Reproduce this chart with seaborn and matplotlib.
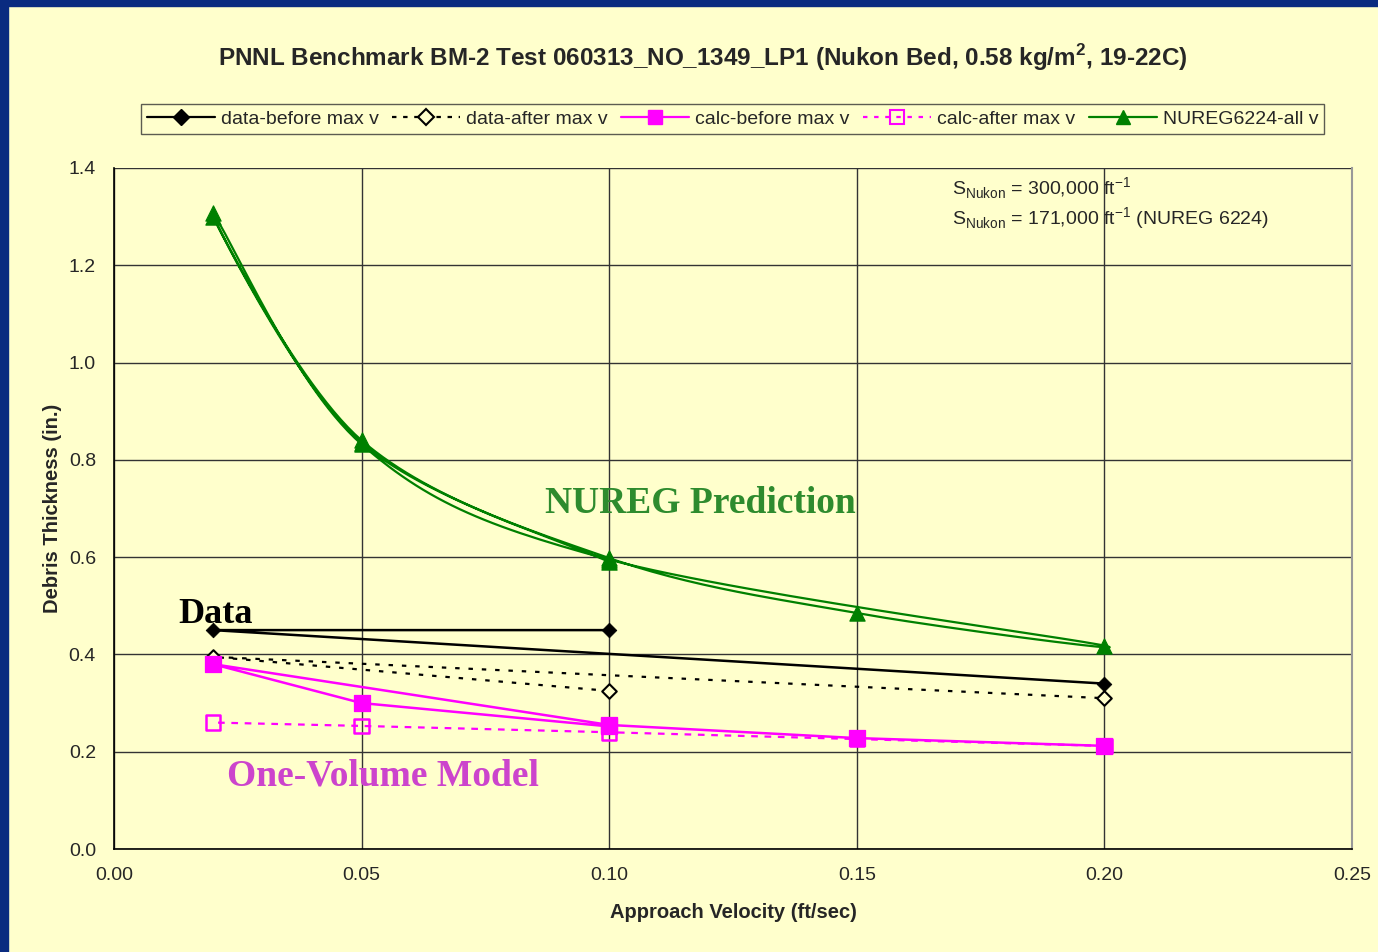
import numpy as np
import matplotlib
matplotlib.use("Agg")
import matplotlib.pyplot as plt
from matplotlib.lines import Line2D
from matplotlib.patches import Rectangle
import seaborn as sns

# ---------------- data ----------------
data_before_x = [0.10, 0.02, 0.20]
data_before_y = [0.45, 0.45, 0.34]

data_after_x = [0.10, 0.02, 0.20]
data_after_y = [0.325, 0.395, 0.31]

calc_before_x = [0.10, 0.05, 0.02, 0.10, 0.15, 0.20]
calc_before_y = [0.252, 0.30, 0.38, 0.255, 0.228, 0.212]

calc_after_x = [0.20, 0.15, 0.10, 0.05, 0.02]
calc_after_y = [0.212, 0.226, 0.240, 0.253, 0.260]

nureg_x = [0.10, 0.05, 0.02, 0.05, 0.10, 0.15, 0.20, 0.10, 0.05, 0.02]
nureg_y = [0.590, 0.835, 1.300, 0.840, 0.598, 0.485, 0.418, 0.595, 0.832, 1.308]

x_ticks = [0.00, 0.05, 0.10, 0.15, 0.20, 0.25]
y_ticks = [0.0, 0.2, 0.4, 0.6, 0.8, 1.0, 1.2, 1.4]

title = "PNNL Benchmark BM-2 Test 060313_NO_1349_LP1 (Nukon Bed, 0.58 kg/m$^{\\mathbf{2}}$, 19-22C)"
labels = ["data-before max v", "data-after max v", "calc-before max v",
          "calc-after max v", "NUREG6224-all v"]

BG = "#FFFFCC"
GREEN = "#008000"
MAG = "#FF00FF"


def smooth(xs, ys, n=30):
    """Excel-like smoothed line (Catmull-Rom / Bezier) through the points."""
    P = np.column_stack([xs, ys]).astype(float)
    out = []
    for i in range(len(P) - 1):
        p0 = P[i - 1] if i > 0 else P[i]
        p1 = P[i]
        p2 = P[i + 1]
        p3 = P[i + 2] if i + 2 < len(P) else P[i + 1]
        c1 = p1 + (p2 - p0) / 6.0
        c2 = p2 - (p3 - p1) / 6.0
        t = np.linspace(0, 1, n)[:, None]
        seg = ((1 - t) ** 3) * p1 + 3 * ((1 - t) ** 2) * t * c1 + 3 * (1 - t) * t ** 2 * c2 + t ** 3 * p2
        out.append(seg if i == 0 else seg[1:])
    S = np.vstack(out)
    return S[:, 0], S[:, 1]


sns.set_style("white")
plt.rcParams["font.family"] = ["Liberation Sans", "DejaVu Sans"]
plt.rcParams["mathtext.fontset"] = "custom"
plt.rcParams["mathtext.rm"] = "Liberation Sans"
plt.rcParams["mathtext.bf"] = "Liberation Sans:bold"

fig = plt.figure(figsize=(13.78, 9.52), dpi=100)
fig.patch.set_facecolor(BG)
# dark blue frame on left and top
fig.patches.append(Rectangle((0, 0), 8 / 1378, 1, transform=fig.transFigure, color="#0A2B80", zorder=0))
fig.patches.append(Rectangle((0, 1 - 6 / 952), 1, 6 / 952, transform=fig.transFigure, color="#0A2B80", zorder=0))

ax = fig.add_axes([114 / 1378, 1 - 849 / 952, (1352 - 114) / 1378, (849 - 168) / 952])
ax.set_facecolor(BG)

# NUREG (smoothed)
sx, sy = smooth(nureg_x, nureg_y)
sns.lineplot(x=sx, y=sy, sort=False, estimator=None, color=GREEN, lw=1.6, ax=ax, zorder=3)
sns.scatterplot(x=nureg_x, y=nureg_y, marker="^", s=120, color=GREEN, edgecolor=GREEN, ax=ax, zorder=4)

# data before
sns.lineplot(x=data_before_x, y=data_before_y, sort=False, estimator=None, color="black", lw=1.8, ax=ax, zorder=3)
sns.scatterplot(x=data_before_x, y=data_before_y, marker="D", s=55, color="black", edgecolor="black", ax=ax, zorder=4)

# data after
sns.lineplot(x=data_after_x, y=data_after_y, sort=False, estimator=None, color="black", lw=1.6,
             linestyle=(0, (2, 4)), ax=ax, zorder=3)
sns.scatterplot(x=data_after_x, y=data_after_y, marker="D", s=55, facecolor=BG, edgecolor="black",
                linewidth=1.5, ax=ax, zorder=4)

# calc after
sns.lineplot(x=calc_after_x, y=calc_after_y, sort=False, estimator=None, color=MAG, lw=1.6,
             linestyle=(0, (3, 3)), ax=ax, zorder=3)
sns.scatterplot(x=calc_after_x, y=calc_after_y, marker="s", s=110, facecolor="none", edgecolor=MAG,
                linewidth=1.8, ax=ax, zorder=4)

# calc before
sns.lineplot(x=calc_before_x, y=calc_before_y, sort=False, estimator=None, color=MAG, lw=1.8, ax=ax, zorder=3)
sns.scatterplot(x=calc_before_x, y=calc_before_y, marker="s", s=130, color=MAG, edgecolor=MAG, ax=ax, zorder=5)

ax.set_xlim(0, 0.25)
ax.set_ylim(0, 1.4)
ax.set_xticks(x_ticks)
ax.set_yticks(y_ticks)
ax.set_xticklabels([f"{v:.2f}" for v in x_ticks])
ax.set_yticklabels([f"{v:.1f}" for v in y_ticks])
ax.tick_params(axis="both", labelsize=14, direction="out", length=5, width=1, color="black", pad=8)
ax.grid(True, color="#333333", lw=1.0)
ax.set_axisbelow(True)
for s in ["left", "bottom"]:
    ax.spines[s].set_color("black")
    ax.spines[s].set_linewidth(1.2)
ax.spines["top"].set_visible(False)
ax.spines["right"].set_color("#999999")
ax.spines["right"].set_linewidth(1.5)

ax.set_xlabel("Approach Velocity (ft/sec)", fontsize=14.5, fontweight="bold", labelpad=14)
ax.set_ylabel("Debris Thickness (in.)", fontsize=14.5, fontweight="bold", labelpad=5)

fig.text(0.510, 1 - 58 / 952, title, ha="center", va="center", fontsize=17.5, fontweight="bold")

# annotations
serif = ["Liberation Serif", "DejaVu Serif"]
ax.text(0.0129, 0.483, "Data", fontsize=26, fontweight="bold", family=serif, color="black",
        ha="left", va="center", zorder=6)
ax.text(0.1185, 0.711, "NUREG Prediction", fontsize=27, fontweight="bold", family=serif, color="#2E8B2E",
        ha="center", va="center", zorder=6)
ax.text(0.0543, 0.150, "One-Volume Model", fontsize=27, fontweight="bold", family=serif, color="#CC44CC",
        ha="center", va="center", zorder=6)
ax.text(0.1692, 1.359, "S$_{\\mathrm{Nukon}}$ = 300,000 ft$^{\\mathrm{-1}}$", fontsize=14, ha="left", va="center")
ax.text(0.1692, 1.295, "S$_{\\mathrm{Nukon}}$ = 171,000 ft$^{\\mathrm{-1}}$ (NUREG 6224)", fontsize=14,
        ha="left", va="center")

handles = [
    Line2D([], [], color="black", lw=1.6, marker="D", ms=8, mfc="black", mec="black"),
    Line2D([], [], color="black", lw=1.6, linestyle=(0, (2, 3)), marker="D", ms=8, mfc=BG, mec="black", mew=1.5),
    Line2D([], [], color=MAG, lw=1.6, marker="s", ms=10, mfc=MAG, mec=MAG),
    Line2D([], [], color=MAG, lw=1.6, linestyle=(0, (2, 3)), marker="s", ms=10, mfc="none", mec=MAG, mew=1.5),
    Line2D([], [], color=GREEN, lw=1.6, marker="^", ms=10, mfc=GREEN, mec=GREEN),
]
leg = fig.legend(handles, labels, loc="center", bbox_to_anchor=(732.5 / 1378, 1 - 119 / 952), ncol=5,
                 fontsize=14, frameon=True, fancybox=False, edgecolor="#333333", facecolor=BG,
                 handlelength=3.5, handletextpad=0.3, columnspacing=0.7, borderpad=0.3)
leg.get_frame().set_linewidth(1.0)

fig.savefig("out.png", dpi=100, facecolor=fig.get_facecolor())
